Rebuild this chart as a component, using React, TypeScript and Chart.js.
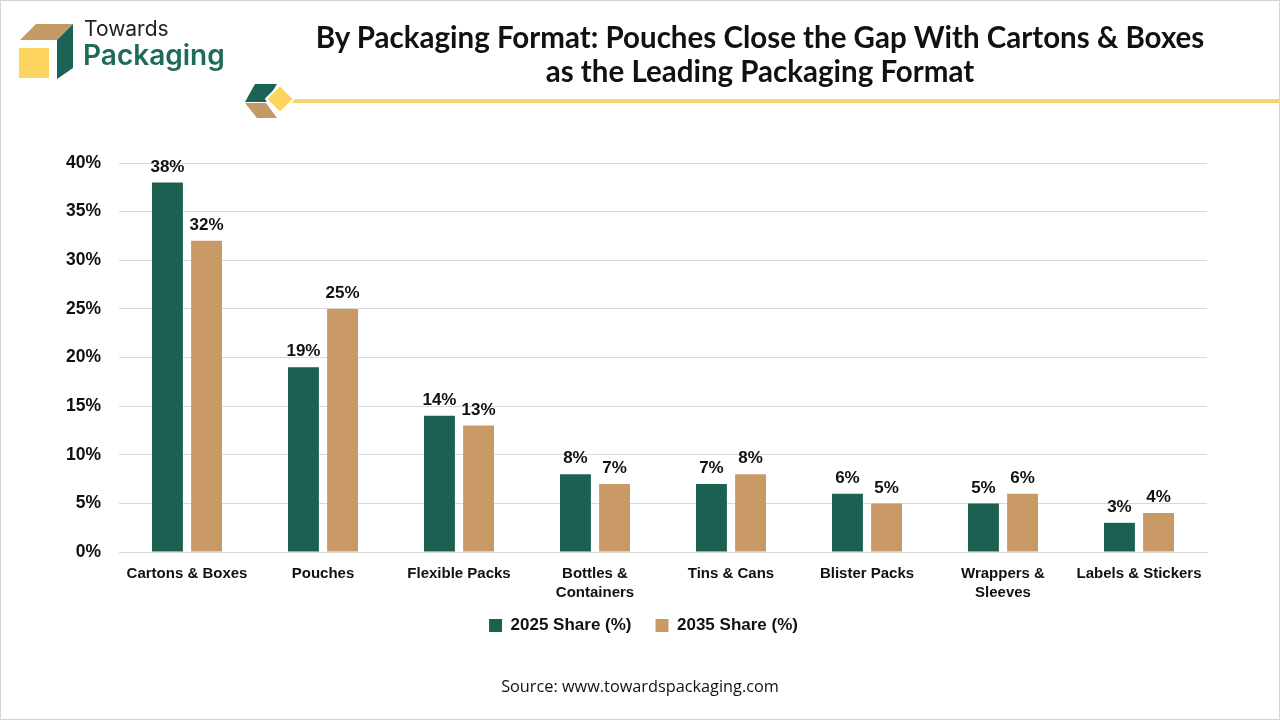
import React, { useEffect, useRef } from "react";
import { Chart, registerables } from "chart.js";

Chart.register(...registerables);

const categories: (string | string[])[] = [
  "Cartons & Boxes",
  "Pouches",
  "Flexible Packs",
  ["Bottles &", "Containers"],
  "Tins & Cans",
  "Blister Packs",
  ["Wrappers &", "Sleeves"],
  "Labels & Stickers",
];
const share2025 = [38, 19, 14, 8, 7, 6, 5, 3];
const share2035 = [32, 25, 13, 7, 8, 5, 6, 4];
const seriesNames = ["2025 Share (%)", "2035 Share (%)"];
const yTicks = [0, 5, 10, 15, 20, 25, 30, 35, 40];

const GREEN = "#1a6152";
const TAN = "#c99a65";
const LABEL_FONT = "'Liberation Sans', Arial, sans-serif";

const valueLabels = {
  id: "valueLabels",
  afterDatasetsDraw(chart: any) {
    const ctx = chart.ctx;
    ctx.save();
    ctx.font = `bold 17px ${LABEL_FONT}`;
    ctx.fillStyle = "#111111";
    ctx.textAlign = "center";
    ctx.textBaseline = "bottom";
    chart.data.datasets.forEach((ds: any, i: number) => {
      const meta = chart.getDatasetMeta(i);
      meta.data.forEach((bar: any, j: number) => {
        ctx.fillText(`${ds.data[j]}%`, bar.x, bar.y - 7);
      });
    });
    ctx.restore();
  },
};

// move the bottom legend so it sits centred on the page, just under the axis labels
const legendShift = {
  id: "legendShift",
  afterLayout(chart: any) {
    const lg = chart.legend;
    if (lg) {
      lg.left += 40;
      lg.right += 40;
      lg.top -= 7;
      lg.bottom -= 7;
    }
  },
};

function BarChart() {
  const ref = useRef<HTMLCanvasElement | null>(null);
  useEffect(() => {
    if (!ref.current) return;
    const chart = new Chart(ref.current, {
      type: "bar",
      data: {
        labels: categories,
        datasets: [
          {
            label: seriesNames[0],
            data: share2025,
            backgroundColor: GREEN,
            categoryPercentage: 0.575,
            barPercentage: 0.79,
          },
          {
            label: seriesNames[1],
            data: share2035,
            backgroundColor: TAN,
            categoryPercentage: 0.575,
            barPercentage: 0.79,
          },
        ],
      },
      options: {
        animation: false,
        responsive: false,
        devicePixelRatio: 1,
        layout: { padding: { top: 163, right: 73, bottom: 69, left: 0 } },
        plugins: {
          legend: {
            position: "bottom",
            labels: {
              boxWidth: 13,
              boxHeight: 13,
              padding: 24,
              color: "#111111",
              font: { family: LABEL_FONT, size: 17, weight: "bold" },
            },
          },
          tooltip: { enabled: false },
        },
        scales: {
          x: {
            grid: { display: false },
            border: { color: "#d9d9d9", width: 1 },
            ticks: {
              color: "#111111",
              padding: 4,
              maxRotation: 0,
              autoSkip: false,
              font: { family: LABEL_FONT, size: 15, weight: "bold", lineHeight: 1.3 },
            },
            afterFit(scale: any) {
              scale.height = 48;
            },
          },
          y: {
            min: 0,
            max: 40,
            afterBuildTicks(scale: any) {
              scale.ticks = yTicks.map((v) => ({ value: v }));
            },
            grid: { color: "#d9d9d9", lineWidth: 1, drawTicks: false },
            border: { display: false },
            ticks: {
              color: "#111111",
              padding: 18,
              callback: (v: any) => `${v}%`,
              font: { family: LABEL_FONT, size: 17.5, weight: "bold" },
            },
            afterFit(scale: any) {
              scale.width = 119;
            },
          },
        },
      },
      plugins: [valueLabels, legendShift],
    });
    return () => chart.destroy();
  }, []);
  return <canvas ref={ref} width={1280} height={720} style={{ position: "absolute", left: 0, top: 0 }} />;
}

export default function App() {
  useEffect(() => {
    document.body.style.margin = "0";
  }, []);
  return (
    <div
      style={{
        position: "relative",
        width: 1280,
        height: 720,
        background: "#ffffff",
        overflow: "hidden",
        fontFamily: "Lato, sans-serif",
      }}
    >
      <BarChart />
      {/* logo */}
      <svg width={80} height={90} style={{ position: "absolute", left: 0, top: 0 }}>
        <polygon points="20,40 36,24 73,24 57,40" fill="#c49a64" />
        <polygon points="57,40 73,24 73,68 57,79" fill="#1b6354" />
        <rect x={19} y={48} width={30} height={30} fill="#fdd55e" />
      </svg>
      <div style={{ position: "absolute", left: 84, top: 16, fontFamily: "Inter, sans-serif", fontSize: 21, color: "#222", lineHeight: "26px" }}>
        Towards
      </div>
      <div style={{ position: "absolute", left: 83, top: 38, fontFamily: "Inter, sans-serif", fontSize: 28, fontWeight: 600, color: "#1e6b5a", lineHeight: "34px" }}>
        Packaging
      </div>
      {/* title */}
      <div
        style={{
          position: "absolute",
          left: 260,
          width: 1000,
          top: 20,
          textAlign: "center",
          fontFamily: "Lato, sans-serif",
          fontWeight: 700,
          fontSize: 29.5,
          lineHeight: "34px",
          color: "#111",
        }}
      >
        By Packaging Format: Pouches Close the Gap With Cartons &amp; Boxes
        <br />
        as the Leading Packaging Format
      </div>
      {/* decoration */}
      <svg width={1280} height={130} style={{ position: "absolute", left: 0, top: 0 }}>
        <rect x={285} y={99} width={995} height={4} fill="#f5d56a" />
        <polygon points="255,84 277,84 266,102 245,102" fill="#1b6354" />
        <polygon points="245,103 266,103 277,118 257,118" fill="#c49a64" />
        <polygon points="280,85 294,99 280,113 266,99" fill="#fdd55e" stroke="#ffffff" strokeWidth={2} strokeLinejoin="round" />
      </svg>
      {/* source */}
      <div
        style={{
          position: "absolute",
          left: 0,
          width: 1280,
          top: 675,
          textAlign: "center",
          fontFamily: "'Open Sans', sans-serif",
          fontSize: 16.3,
          color: "#111",
        }}
      >
        Source: www.towardspackaging.com
      </div>
      <div style={{ position: "absolute", inset: 0, border: "1px solid #d4d4d4", pointerEvents: "none" }} />
    </div>
  );
}
